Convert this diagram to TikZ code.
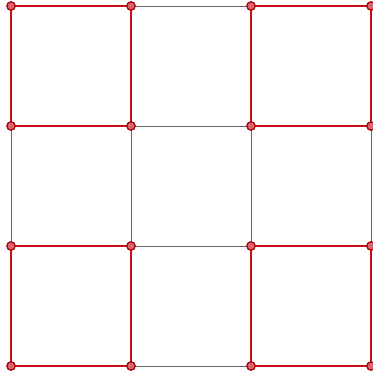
\documentclass[tikz,border=0pt]{standalone}
\usepackage{tikz}
\usetikzlibrary{positioning}

\definecolor{sqred}{RGB}{200,12,22}
\definecolor{dotfill}{RGB}{214,104,108}
\definecolor{dotline}{RGB}{172,0,10}

\begin{document}
\begin{tikzpicture}[x=1cm,y=1cm,
  gridline/.style={draw=gray!80!black,line width=0.6pt},
  redsq/.style={draw=sqred,line width=1.6pt},
  pt/.style={circle,draw=dotline,fill=dotfill,line width=0.9pt,minimum size=6pt,inner sep=0pt}]
  \useasboundingbox (-0.275,-0.3) rectangle (9.025,9.15);

  % Row 0
  \coordinate (g0r0) at (0,9);
  \coordinate (g1r0) at (3,9);
  \coordinate (g2r0) at (6,9);
  \coordinate (g3r0) at (9,9);

  % Row 1
  \coordinate (g0r1) at (0,6);
  \coordinate (g1r1) at (3,6);
  \coordinate (g2r1) at (6,6);
  \coordinate (g3r1) at (9,6);

  % Row 2
  \coordinate (g0r2) at (0,3);
  \coordinate (g1r2) at (3,3);
  \coordinate (g2r2) at (6,3);
  \coordinate (g3r2) at (9,3);

  % Row 3
  \coordinate (g0r3) at (0,0);
  \coordinate (g1r3) at (3,0);
  \coordinate (g2r3) at (6,0);
  \coordinate (g3r3) at (9,0);

  % Thin grid
  \draw[gridline] (g0r0) -- (g3r0);
  \draw[gridline] (g0r1) -- (g3r1);
  \draw[gridline] (g0r2) -- (g3r2);
  \draw[gridline] (g0r3) -- (g3r3);
  \draw[gridline] (g0r0) -- (g0r3);
  \draw[gridline] (g1r0) -- (g1r3);
  \draw[gridline] (g2r0) -- (g2r3);
  \draw[gridline] (g3r0) -- (g3r3);

  % Corner squares
  \draw[redsq] (g0r0) -- (g1r0) -- (g1r1) -- (g0r1) -- cycle;
  \draw[redsq] (g2r0) -- (g3r0) -- (g3r1) -- (g2r1) -- cycle;
  \draw[redsq] (g0r2) -- (g1r2) -- (g1r3) -- (g0r3) -- cycle;
  \draw[redsq] (g2r2) -- (g3r2) -- (g3r3) -- (g2r3) -- cycle;

  % Points
  \foreach \c in {0,1,2,3}
    \foreach \r in {0,1,2,3}
      \node[pt] (p\c r\r) at (g\c r\r) {};
\end{tikzpicture}
\end{document}
